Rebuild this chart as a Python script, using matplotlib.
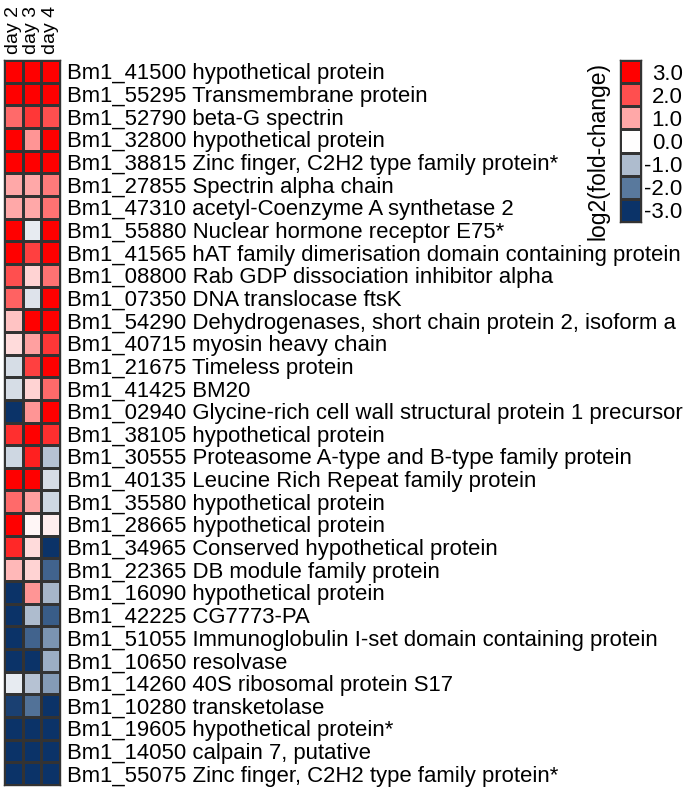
import numpy as np
import matplotlib
matplotlib.use("Agg")
import matplotlib.pyplot as plt
from matplotlib.colors import LinearSegmentedColormap

plt.rcParams['font.family'] = ['Liberation Sans', 'DejaVu Sans']

days = ["day 2", "day 3", "day 4"]
genes = [
    "Bm1_41500 hypothetical protein",
    "Bm1_55295 Transmembrane protein",
    "Bm1_52790 beta-G spectrin",
    "Bm1_32800 hypothetical protein",
    "Bm1_38815 Zinc finger, C2H2 type family protein*",
    "Bm1_27855 Spectrin alpha chain",
    "Bm1_47310 acetyl-Coenzyme A synthetase 2",
    "Bm1_55880 Nuclear hormone receptor E75*",
    "Bm1_41565 hAT family dimerisation domain containing protein",
    "Bm1_08800 Rab GDP dissociation inhibitor alpha",
    "Bm1_07350 DNA translocase ftsK",
    "Bm1_54290 Dehydrogenases, short chain protein 2, isoform a",
    "Bm1_40715 myosin heavy chain",
    "Bm1_21675 Timeless protein",
    "Bm1_41425 BM20",
    "Bm1_02940 Glycine-rich cell wall structural protein 1 precursor",
    "Bm1_38105 hypothetical protein",
    "Bm1_30555 Proteasome A-type and B-type family protein",
    "Bm1_40135 Leucine Rich Repeat family protein",
    "Bm1_35580 hypothetical protein",
    "Bm1_28665 hypothetical protein",
    "Bm1_34965 Conserved hypothetical protein",
    "Bm1_22365 DB module family protein",
    "Bm1_16090 hypothetical protein",
    "Bm1_42225 CG7773-PA",
    "Bm1_51055 Immunoglobulin I-set domain containing protein",
    "Bm1_10650 resolvase",
    "Bm1_14260 40S ribosomal protein S17",
    "Bm1_10280 transketolase",
    "Bm1_19605 hypothetical protein*",
    "Bm1_14050 calpain 7, putative",
    "Bm1_55075 Zinc finger, C2H2 type family protein*",
]
day2 = [3.0, 3.0, 1.7, 3.0, 3.0, 1.0, 1.0, 3.0, 3.0, 2.0, 1.8, 0.7, 0.4, -0.5, -0.5, -3.0,
        2.4, -0.6, 3.0, 1.7, 3.0, 2.5, 0.8, -3.0, -3.0, -3.0, -3.0, -0.3, -2.8, -3.0, -3.0, -3.0]
day3 = [3.0, 3.0, 2.3, 1.2, 3.0, 1.0, 1.0, -0.3, 2.2, 0.5, -0.4, 3.0, 1.1, 2.2, 0.5, 1.2,
        3.0, 2.6, 3.0, 1.1, 0.1, 0.4, 0.5, 1.2, -1.0, -2.3, -3.0, -0.9, -2.1, -3.0, -3.0, -3.0]
day4 = [3.0, 3.0, 2.0, 3.0, 3.0, 1.5, 1.6, 3.0, 3.0, 1.6, 3.0, 3.0, 2.3, 3.0, 1.7, 3.0,
        2.4, -0.9, -0.5, -0.6, 0.2, -3.0, -2.3, -1.1, -2.4, -1.6, -1.2, -1.5, -3.0, -3.0, -3.0, -3.0]
legend_ticks = [3.0, 2.0, 1.0, 0.0, -1.0, -2.0, -3.0]

stops = ['#0b3368', '#5a7a9e', '#aebcce', '#ffffff', '#ffa8a8', '#ff5050', '#ff0000']
cmap = LinearSegmentedColormap.from_list('div', stops)

W, H = 689, 790
fig = plt.figure(figsize=(W / 100, H / 100), dpi=100)

data = np.array([day2, day3, day4]).T
n = len(genes)
ax = fig.add_axes([4 / W, (H - 785) / H, 56 / W, 725 / H])
ax.pcolormesh(data, cmap=cmap, vmin=-3, vmax=3, edgecolors='#333333', linewidth=1.0)
ax.set_xlim(0, 3)
ax.set_ylim(n, 0)
ax.set_yticks(np.arange(n) + 0.5)
ax.yaxis.tick_right()
ax.set_yticklabels(genes, fontsize=15.95)
ax.tick_params(axis='y', length=0, pad=5)
ax.set_xticks(np.arange(3) + 0.5)
ax.xaxis.tick_top()
ax.set_xticklabels(days, rotation=90, fontsize=14)
ax.tick_params(axis='x', length=0, pad=4)
for s in ax.spines.values():
    s.set_linewidth(1.0)
    s.set_color('#333333')

# legend colorbar
cax = fig.add_axes([620 / W, (H - 222) / H, 21 / W, 162 / H])
lv = np.array(legend_ticks).reshape(-1, 1)
cax.pcolormesh(lv, cmap=cmap, vmin=-3, vmax=3, edgecolors='#333333', linewidth=1.0)
cax.set_ylim(len(legend_ticks), 0)
cax.set_xlim(0, 1)
cax.set_xticks([])
cax.yaxis.tick_right()
cax.set_yticks(np.arange(len(legend_ticks)) + 0.5)
cax.set_yticklabels([f"{v:.1f}" for v in legend_ticks], fontsize=16, ha='right')
cax.tick_params(axis='y', length=0, pad=30)
cax.set_ylabel("log2(fold-change)", fontsize=16.5)
cax.yaxis.set_label_coords(-0.5, 0.44)
for s in cax.spines.values():
    s.set_linewidth(1.0)
    s.set_color('#333333')

fig.savefig("out.png", dpi=100)
